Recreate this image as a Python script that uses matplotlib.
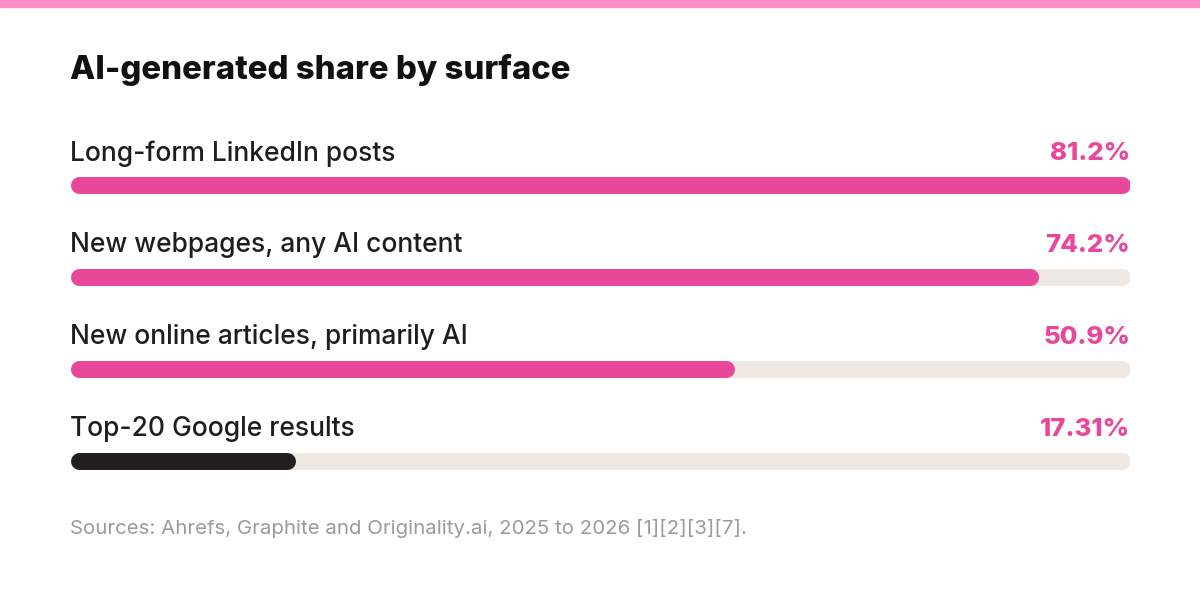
import matplotlib.pyplot as plt
from matplotlib.patches import Rectangle

plt.rcParams['font.family'] = ['Inter', 'DejaVu Sans']

labels = ['Long-form LinkedIn posts', 'New webpages, any AI content',
          'New online articles, primarily AI', 'Top-20 Google results']
values = [81.2, 74.2, 50.9, 17.31]
value_text = ['81.2%', '74.2%', '50.9%', '17.31%']
bar_colors = ['#E8479A', '#E8479A', '#E8479A', '#231F20']

PINK = '#E8479A'
TRACK = '#F0E8E2'
W, H = 1200, 609

fig = plt.figure(figsize=(W / 100, H / 100), dpi=100)
fig.patch.set_facecolor('white')

# top accent strip
fig.patches.append(Rectangle((0, 1 - 7 / H), 1, 7 / H, transform=fig.transFigure,
                             color='#FF8EC8', zorder=0))

fig.text(70 / W, 1 - 70 / H, 'AI-generated share by surface', fontsize=23.7,
         fontweight='heavy', color='#111111', va='center', ha='left')

# bar area: x 70..1130 px, rows of 92 px starting at y=139
top, row_h = 139, 92
ax = fig.add_axes([70 / W, 1 - (top + row_h * len(values)) / H, 1060 / W,
                   row_h * len(values) / H])
vmax = max(values)
ax.set_xlim(0, vmax)
ax.set_ylim(len(values) - 0.5, -0.5)
ax.axis('off')

bar_px = 17
lw = bar_px * 0.72
r = (bar_px / 2) / 1060 * vmax  # cap radius in data units

for i, (lab, v, vt, c) in enumerate(zip(labels, values, value_text, bar_colors)):
    ax.hlines(i, r, vmax - r, color=TRACK, linewidth=lw, capstyle='round')
    ax.hlines(i, r, v - r, color=c, linewidth=lw, capstyle='round')
    ax.text(0, i - 31.5 / row_h, lab, fontsize=19, fontweight='medium',
            color='#1E1E1E', va='center', ha='left')
    ax.text(vmax, i - 31.5 / row_h, vt, fontsize=18.5, fontweight='heavy', color=PINK,
            va='center', ha='right')

fig.text(70 / W, 1 - 528 / H,
         'Sources: Ahrefs, Graphite and Originality.ai, 2025 to 2026 [1][2][3][7].',
         fontsize=14.7, color='#9B9B9B', va='center', ha='left')

fig.savefig('out.png', dpi=100, facecolor='white')
